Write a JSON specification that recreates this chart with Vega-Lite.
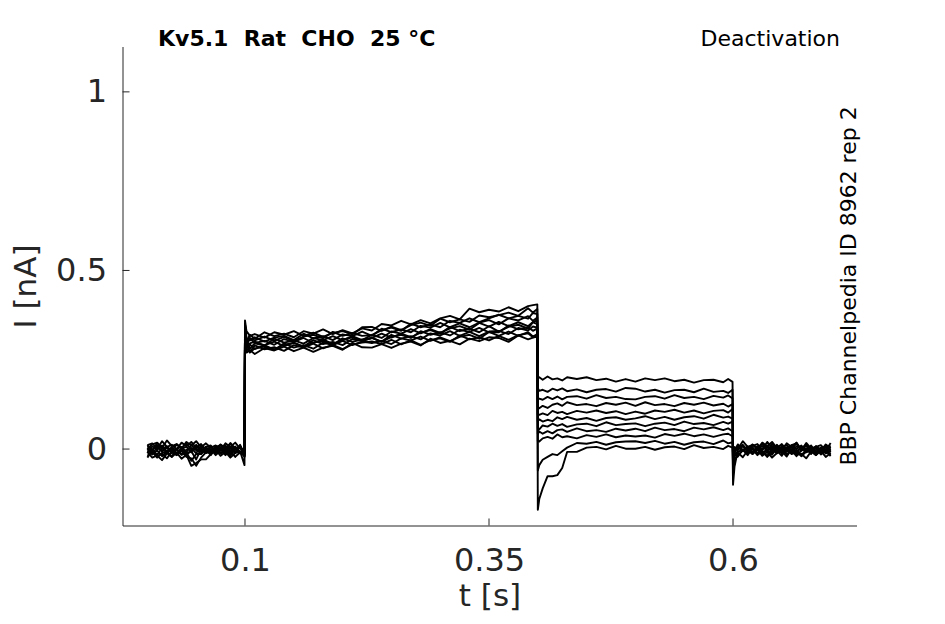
{
  "$schema": "https://vega.github.io/schema/vega-lite/v6.json",
  "width": 734,
  "height": 479,
  "autosize": {"type": "none"},
  "padding": {"left": 122.5, "top": 46.5, "right": 88.5, "bottom": 98.5},
  "background": "white",
  "config": {
    "view": {"stroke": null},
    "font": "DejaVu Sans",
    "axis": {
      "grid": false,
      "ticks": false,
      "domainColor": "#262626",
      "labelColor": "#262626",
      "titleColor": "#262626",
      "labelFont": "DejaVu Sans",
      "titleFont": "DejaVu Sans",
      "labelFontSize": 32,
      "titleFontSize": 31,
      "titleFontWeight": "normal",
      "labelOverlap": false,
      "labelFlush": false
    }
  },
  "layer": [
    {
      "data": {
        "values": [
          {"t": 0, "a": 0.011, "b": -0.009, "c": 0.008, "d": -0.019, "e": 0.011, "f": -0.008, "g": -0.011, "h": 0.002, "i": 0.0, "j": -0.024, "k": -0.001},
          {"t": 0.005, "a": -0.004, "b": -0.003, "c": -0.002, "d": -0.008, "e": 0.016, "f": -0.024, "g": 0.008, "h": -0.015, "i": 0.013, "j": -0.003, "k": -0.014},
          {"t": 0.01, "a": 0.017, "b": -0.016, "c": 0.01, "d": -0.024, "e": 0.001, "f": -0.018, "g": -0.002, "h": -0.004, "i": 0.018, "j": -0.019, "k": 0.005},
          {"t": 0.015, "a": 0.001, "b": 0.003, "c": -0.007, "d": -0.011, "e": 0.022, "f": -0.031, "g": 0.01, "h": -0.02, "i": 0.003, "j": -0.013, "k": -0.005},
          {"t": 0.02, "a": 0.007, "b": -0.007, "c": 0.004, "d": -0.006, "e": 0.006, "f": -0.012, "g": -0.007, "h": -0.007, "i": 0.024, "j": -0.026, "k": 0.007},
          {"t": 0.025, "a": -0.006, "b": 0.005, "c": -0.012, "d": -0.021, "e": 0.012, "f": -0.022, "g": 0.004, "h": -0.002, "i": 0.008, "j": -0.007, "k": -0.01},
          {"t": 0.03, "a": 0.013, "b": -0.012, "c": 0.001, "d": 0.0, "e": -0.001, "f": -0.01, "g": -0.012, "h": -0.017, "i": 0.014, "j": -0.017, "k": 0.001},
          {"t": 0.035, "a": 0.003, "b": -0.001, "c": 0.006, "d": -0.016, "e": 0.018, "f": -0.027, "g": 0.001, "h": 0.004, "i": 0.001, "j": -0.005, "k": -0.015},
          {"t": 0.04, "a": 0.015, "b": -0.017, "c": -0.009, "d": -0.01, "e": 0.008, "f": -0.016, "g": 0.006, "h": -0.012, "i": 0.02, "j": -0.022, "k": -0.002},
          {"t": 0.045, "a": -0.002, "b": -0.004, "c": 0.012, "d": -0.033, "e": 0.02, "f": -0.047, "g": -0.009, "h": -0.006, "i": 0.01, "j": -0.026, "k": 0.003},
          {"t": 0.05, "a": 0.009, "b": 0.001, "c": -0.004, "d": -0.014, "e": 0.003, "f": -0.039, "g": 0.012, "h": -0.029, "i": 0.022, "j": -0.047, "k": -0.012},
          {"t": 0.055, "a": -0.007, "b": -0.014, "c": 0.002, "d": -0.014, "e": 0.014, "f": -0.029, "g": -0.004, "h": 0.0, "i": 0.005, "j": -0.024, "k": 0.009},
          {"t": 0.06, "a": 0.006, "b": 0.007, "c": -0.011, "d": -0.002, "e": -0.002, "f": -0.029, "g": 0.002, "h": -0.01, "i": 0.016, "j": -0.009, "k": -0.007},
          {"t": 0.065, "a": -0.011, "b": 0.01, "c": -0.007, "d": -0.017, "e": 0.007, "f": -0.014, "g": -0.001, "h": 0.006, "i": 0.004, "j": -0.002, "k": -0.007},
          {"t": 0.07, "a": 0.008, "b": -0.007, "c": 0.006, "d": 0.004, "e": -0.006, "f": -0.002, "g": -0.017, "h": -0.009, "i": 0.01, "j": -0.012, "k": 0.004},
          {"t": 0.075, "a": -0.002, "b": 0.004, "c": 0.011, "d": -0.012, "e": 0.013, "f": -0.019, "g": -0.004, "h": 0.012, "i": -0.003, "j": 0.0, "k": -0.012},
          {"t": 0.08, "a": 0.01, "b": -0.012, "c": -0.004, "d": -0.006, "e": 0.003, "f": -0.008, "g": 0.001, "h": -0.004, "i": 0.016, "j": -0.017, "k": 0.001},
          {"t": 0.085, "a": -0.007, "b": 0.001, "c": 0.017, "d": -0.019, "e": 0.015, "f": -0.024, "g": -0.014, "h": 0.002, "i": 0.006, "j": -0.006, "k": 0.006},
          {"t": 0.09, "a": 0.004, "b": 0.006, "c": 0.001, "d": 0.0, "e": -0.002, "f": -0.011, "g": 0.007, "h": -0.011, "i": 0.018, "j": -0.022, "k": -0.009},
          {"t": 0.095, "a": -0.012, "b": -0.009, "c": 0.007, "d": -0.01, "e": 0.009, "f": -0.006, "g": -0.009, "h": 0.008, "i": 0.001, "j": -0.009, "k": 0.012},
          {"t": 0.0995, "a": -0.01, "b": 0.0, "c": -0.02, "d": -0.012, "e": -0.022, "f": -0.045, "g": -0.018, "h": -0.015, "i": 0.0, "j": -0.02, "k": -0.015},
          {"t": 0.1, "a": 0.34, "b": 0.36, "c": 0.33, "d": 0.35, "e": 0.32, "f": 0.34, "g": 0.35, "h": 0.33, "i": 0.345, "j": 0.33, "k": 0.32},
          {"t": 0.1015, "a": 0.3, "b": 0.33, "c": 0.29, "d": 0.31, "e": 0.28, "f": 0.3, "g": 0.31, "h": 0.29, "i": 0.3, "j": 0.28, "k": 0.27},
          {"t": 0.105, "a": 0.32, "b": 0.317, "c": 0.311, "d": 0.304, "e": 0.296, "f": 0.31, "g": 0.281, "h": 0.293, "i": 0.27, "j": 0.273, "k": 0.277},
          {"t": 0.11, "a": 0.309, "b": 0.322, "c": 0.304, "d": 0.313, "e": 0.301, "f": 0.297, "g": 0.296, "h": 0.28, "i": 0.282, "j": 0.29, "k": 0.266},
          {"t": 0.12, "a": 0.327, "b": 0.312, "c": 0.315, "d": 0.301, "e": 0.29, "f": 0.303, "g": 0.29, "h": 0.29, "i": 0.287, "j": 0.279, "k": 0.283},
          {"t": 0.13, "a": 0.316, "b": 0.327, "c": 0.303, "d": 0.312, "e": 0.309, "f": 0.292, "g": 0.301, "h": 0.279, "i": 0.277, "j": 0.285, "k": 0.276},
          {"t": 0.14, "a": 0.323, "b": 0.32, "c": 0.314, "d": 0.317, "e": 0.298, "f": 0.308, "g": 0.288, "h": 0.292, "i": 0.296, "j": 0.275, "k": 0.287},
          {"t": 0.15, "a": 0.313, "b": 0.33, "c": 0.302, "d": 0.305, "e": 0.304, "f": 0.3, "g": 0.298, "h": 0.297, "i": 0.284, "j": 0.291, "k": 0.274},
          {"t": 0.16, "a": 0.33, "b": 0.317, "c": 0.315, "d": 0.323, "e": 0.295, "f": 0.311, "g": 0.286, "h": 0.287, "i": 0.291, "j": 0.284, "k": 0.284},
          {"t": 0.17, "a": 0.323, "b": 0.326, "c": 0.32, "d": 0.31, "e": 0.311, "f": 0.297, "g": 0.298, "h": 0.305, "i": 0.281, "j": 0.295, "k": 0.272},
          {"t": 0.18, "a": 0.335, "b": 0.314, "c": 0.31, "d": 0.316, "e": 0.305, "f": 0.307, "g": 0.303, "h": 0.294, "i": 0.298, "j": 0.282, "k": 0.284},
          {"t": 0.19, "a": 0.322, "b": 0.325, "c": 0.328, "d": 0.305, "e": 0.316, "f": 0.294, "g": 0.292, "h": 0.3, "i": 0.291, "j": 0.292, "k": 0.289},
          {"t": 0.2, "a": 0.333, "b": 0.33, "c": 0.317, "d": 0.321, "e": 0.304, "f": 0.306, "g": 0.31, "h": 0.291, "i": 0.303, "j": 0.28, "k": 0.278},
          {"t": 0.21, "a": 0.324, "b": 0.321, "c": 0.325, "d": 0.316, "e": 0.316, "f": 0.313, "g": 0.3, "h": 0.308, "i": 0.291, "j": 0.293, "k": 0.297},
          {"t": 0.22, "a": 0.338, "b": 0.341, "c": 0.317, "d": 0.329, "e": 0.305, "f": 0.303, "g": 0.307, "h": 0.302, "i": 0.301, "j": 0.298, "k": 0.285},
          {"t": 0.23, "a": 0.332, "b": 0.342, "c": 0.319, "d": 0.317, "e": 0.32, "f": 0.311, "g": 0.311, "h": 0.311, "i": 0.297, "j": 0.301, "k": 0.284},
          {"t": 0.24, "a": 0.35, "b": 0.331, "c": 0.333, "d": 0.337, "e": 0.311, "f": 0.323, "g": 0.3, "h": 0.301, "i": 0.303, "j": 0.294, "k": 0.294},
          {"t": 0.25, "a": 0.346, "b": 0.343, "c": 0.34, "d": 0.327, "e": 0.329, "f": 0.312, "g": 0.314, "h": 0.32, "i": 0.294, "j": 0.306, "k": 0.283},
          {"t": 0.26, "a": 0.359, "b": 0.333, "c": 0.331, "d": 0.335, "e": 0.323, "f": 0.323, "g": 0.32, "h": 0.309, "i": 0.31, "j": 0.293, "k": 0.295},
          {"t": 0.27, "a": 0.349, "b": 0.347, "c": 0.351, "d": 0.327, "e": 0.336, "f": 0.313, "g": 0.311, "h": 0.316, "i": 0.304, "j": 0.304, "k": 0.301},
          {"t": 0.28, "a": 0.361, "b": 0.354, "c": 0.341, "d": 0.345, "e": 0.324, "f": 0.326, "g": 0.33, "h": 0.307, "i": 0.315, "j": 0.292, "k": 0.29},
          {"t": 0.29, "a": 0.352, "b": 0.345, "c": 0.349, "d": 0.34, "e": 0.336, "f": 0.333, "g": 0.32, "h": 0.324, "i": 0.303, "j": 0.305, "k": 0.309},
          {"t": 0.3, "a": 0.366, "b": 0.365, "c": 0.341, "d": 0.353, "e": 0.325, "f": 0.323, "g": 0.327, "h": 0.318, "i": 0.313, "j": 0.31, "k": 0.297},
          {"t": 0.31, "a": 0.373, "b": 0.355, "c": 0.359, "d": 0.341, "e": 0.338, "f": 0.342, "g": 0.318, "h": 0.33, "i": 0.302, "j": 0.3, "k": 0.303},
          {"t": 0.32, "a": 0.363, "b": 0.363, "c": 0.353, "d": 0.352, "e": 0.344, "f": 0.33, "g": 0.334, "h": 0.317, "i": 0.314, "j": 0.318, "k": 0.293},
          {"t": 0.33, "a": 0.393, "b": 0.356, "c": 0.366, "d": 0.341, "e": 0.334, "f": 0.337, "g": 0.328, "h": 0.328, "i": 0.32, "j": 0.307, "k": 0.309},
          {"t": 0.34, "a": 0.383, "b": 0.374, "c": 0.355, "d": 0.354, "e": 0.353, "f": 0.327, "g": 0.339, "h": 0.316, "i": 0.309, "j": 0.313, "k": 0.302},
          {"t": 0.35, "a": 0.39, "b": 0.369, "c": 0.366, "d": 0.361, "e": 0.343, "f": 0.344, "g": 0.327, "h": 0.329, "i": 0.328, "j": 0.304, "k": 0.313},
          {"t": 0.36, "a": 0.385, "b": 0.375, "c": 0.376, "d": 0.349, "e": 0.356, "f": 0.329, "g": 0.327, "h": 0.331, "i": 0.317, "j": 0.317, "k": 0.311},
          {"t": 0.37, "a": 0.397, "b": 0.382, "c": 0.366, "d": 0.366, "e": 0.344, "f": 0.342, "g": 0.346, "h": 0.322, "i": 0.329, "j": 0.306, "k": 0.3},
          {"t": 0.38, "a": 0.386, "b": 0.373, "c": 0.373, "d": 0.36, "e": 0.355, "f": 0.348, "g": 0.335, "h": 0.339, "i": 0.317, "j": 0.319, "k": 0.318},
          {"t": 0.39, "a": 0.4, "b": 0.394, "c": 0.365, "d": 0.372, "e": 0.344, "f": 0.337, "g": 0.341, "h": 0.332, "i": 0.327, "j": 0.324, "k": 0.307},
          {"t": 0.395, "a": 0.403, "b": 0.382, "c": 0.381, "d": 0.359, "e": 0.356, "f": 0.355, "g": 0.331, "h": 0.343, "i": 0.315, "j": 0.313, "k": 0.312},
          {"t": 0.3995, "a": 0.405, "b": 0.392, "c": 0.378, "d": 0.368, "e": 0.36, "f": 0.35, "g": 0.338, "h": 0.34, "i": 0.322, "j": 0.318, "k": 0.315},
          {"t": 0.4, "a": 0.2, "b": 0.17, "c": 0.14, "d": 0.118, "e": 0.096, "f": 0.078, "g": 0.058, "h": 0.042, "i": 0.022, "j": -0.06, "k": -0.17},
          {"t": 0.4015, "a": 0.201, "b": 0.163, "c": 0.141, "d": 0.114, "e": 0.096, "f": 0.083, "g": 0.055, "h": 0.049, "i": 0.021, "j": -0.045, "k": -0.14},
          {"t": 0.405, "a": 0.194, "b": 0.166, "c": 0.138, "d": 0.121, "e": 0.1, "f": 0.077, "g": 0.066, "h": 0.043, "i": 0.03, "j": -0.03, "k": -0.11},
          {"t": 0.41, "a": 0.203, "b": 0.16, "c": 0.146, "d": 0.115, "e": 0.095, "f": 0.082, "g": 0.063, "h": 0.05, "i": 0.034, "j": -0.022, "k": -0.076},
          {"t": 0.415, "a": 0.195, "b": 0.169, "c": 0.14, "d": 0.124, "e": 0.107, "f": 0.078, "g": 0.071, "h": 0.044, "i": 0.029, "j": -0.014, "k": -0.076},
          {"t": 0.42, "a": 0.198, "b": 0.164, "c": 0.147, "d": 0.128, "e": 0.101, "f": 0.089, "g": 0.065, "h": 0.053, "i": 0.041, "j": -0.017, "k": -0.073},
          {"t": 0.425, "a": 0.192, "b": 0.17, "c": 0.139, "d": 0.121, "e": 0.104, "f": 0.084, "g": 0.07, "h": 0.055, "i": 0.033, "j": -0.006, "k": -0.053},
          {"t": 0.43, "a": 0.201, "b": 0.162, "c": 0.146, "d": 0.131, "e": 0.098, "f": 0.09, "g": 0.062, "h": 0.048, "i": 0.036, "j": 0.004, "k": -0.008},
          {"t": 0.44, "a": 0.196, "b": 0.167, "c": 0.148, "d": 0.123, "e": 0.107, "f": 0.082, "g": 0.069, "h": 0.058, "i": 0.03, "j": 0.017, "k": -0.008},
          {"t": 0.45, "a": 0.201, "b": 0.159, "c": 0.141, "d": 0.126, "e": 0.102, "f": 0.087, "g": 0.071, "h": 0.05, "i": 0.039, "j": 0.015, "k": 0.004},
          {"t": 0.46, "a": 0.193, "b": 0.166, "c": 0.151, "d": 0.12, "e": 0.108, "f": 0.079, "g": 0.064, "h": 0.053, "i": 0.034, "j": 0.02, "k": 0.006},
          {"t": 0.47, "a": 0.197, "b": 0.168, "c": 0.143, "d": 0.129, "e": 0.101, "f": 0.087, "g": 0.075, "h": 0.048, "i": 0.041, "j": 0.012, "k": -0.001},
          {"t": 0.48, "a": 0.189, "b": 0.161, "c": 0.146, "d": 0.124, "e": 0.106, "f": 0.089, "g": 0.067, "h": 0.057, "i": 0.033, "j": 0.019, "k": 0.009},
          {"t": 0.49, "a": 0.196, "b": 0.171, "c": 0.14, "d": 0.13, "e": 0.098, "f": 0.082, "g": 0.07, "h": 0.052, "i": 0.038, "j": 0.021, "k": 0.001},
          {"t": 0.5, "a": 0.189, "b": 0.169, "c": 0.139, "d": 0.121, "e": 0.105, "f": 0.086, "g": 0.072, "h": 0.057, "i": 0.035, "j": 0.022, "k": 0.001},
          {"t": 0.51, "a": 0.198, "b": 0.161, "c": 0.146, "d": 0.131, "e": 0.099, "f": 0.092, "g": 0.064, "h": 0.05, "i": 0.038, "j": 0.017, "k": 0.006},
          {"t": 0.52, "a": 0.193, "b": 0.166, "c": 0.148, "d": 0.123, "e": 0.108, "f": 0.084, "g": 0.071, "h": 0.06, "i": 0.032, "j": 0.023, "k": -0.002},
          {"t": 0.53, "a": 0.198, "b": 0.158, "c": 0.141, "d": 0.126, "e": 0.104, "f": 0.09, "g": 0.074, "h": 0.053, "i": 0.042, "j": 0.015, "k": 0.005},
          {"t": 0.54, "a": 0.19, "b": 0.165, "c": 0.151, "d": 0.12, "e": 0.11, "f": 0.082, "g": 0.067, "h": 0.056, "i": 0.037, "j": 0.02, "k": 0.007},
          {"t": 0.55, "a": 0.194, "b": 0.166, "c": 0.143, "d": 0.129, "e": 0.102, "f": 0.089, "g": 0.077, "h": 0.05, "i": 0.043, "j": 0.012, "k": 0.0},
          {"t": 0.56, "a": 0.186, "b": 0.159, "c": 0.146, "d": 0.124, "e": 0.108, "f": 0.092, "g": 0.07, "h": 0.06, "i": 0.036, "j": 0.019, "k": 0.011},
          {"t": 0.57, "a": 0.193, "b": 0.169, "c": 0.14, "d": 0.13, "e": 0.1, "f": 0.085, "g": 0.073, "h": 0.055, "i": 0.041, "j": 0.021, "k": 0.003},
          {"t": 0.58, "a": 0.194, "b": 0.16, "c": 0.149, "d": 0.122, "e": 0.107, "f": 0.096, "g": 0.067, "h": 0.061, "i": 0.034, "j": 0.014, "k": 0.006},
          {"t": 0.59, "a": 0.187, "b": 0.163, "c": 0.144, "d": 0.127, "e": 0.109, "f": 0.088, "g": 0.076, "h": 0.053, "i": 0.041, "j": 0.024, "k": 0.0},
          {"t": 0.595, "a": 0.196, "b": 0.157, "c": 0.15, "d": 0.119, "e": 0.102, "f": 0.091, "g": 0.071, "h": 0.058, "i": 0.043, "j": 0.016, "k": 0.009},
          {"t": 0.5995, "a": 0.188, "b": 0.166, "c": 0.142, "d": 0.126, "e": 0.112, "f": 0.085, "g": 0.077, "h": 0.05, "i": 0.036, "j": 0.019, "k": 0.004},
          {"t": 0.6, "a": -0.02, "b": -0.03, "c": -0.015, "d": -0.04, "e": -0.025, "f": -0.05, "g": -0.035, "h": -0.065, "i": -0.02, "j": -0.045, "k": -0.1},
          {"t": 0.6015, "a": 0.005, "b": -0.01, "c": 0.0, "d": -0.015, "e": -0.005, "f": -0.025, "g": -0.01, "h": -0.03, "i": 0.005, "j": -0.02, "k": -0.05},
          {"t": 0.605, "a": 0.001, "b": 0.005, "c": 0.001, "d": -0.007, "e": 0.012, "f": -0.021, "g": 0.013, "h": -0.017, "i": 0.001, "j": -0.01, "k": -0.002},
          {"t": 0.61, "a": 0.007, "b": -0.005, "c": 0.012, "d": -0.002, "e": -0.004, "f": -0.002, "g": -0.004, "h": -0.004, "i": 0.022, "j": -0.023, "k": 0.01},
          {"t": 0.615, "a": -0.006, "b": 0.007, "c": -0.004, "d": -0.017, "e": 0.002, "f": -0.012, "g": 0.007, "h": 0.001, "i": 0.006, "j": -0.004, "k": -0.007},
          {"t": 0.62, "a": 0.013, "b": -0.01, "c": 0.009, "d": 0.004, "e": -0.011, "f": 0.0, "g": -0.009, "h": -0.014, "i": 0.012, "j": -0.014, "k": 0.004},
          {"t": 0.625, "a": 0.003, "b": 0.001, "c": 0.014, "d": -0.012, "e": 0.008, "f": -0.017, "g": 0.004, "h": 0.007, "i": -0.001, "j": -0.002, "k": -0.012},
          {"t": 0.63, "a": 0.015, "b": -0.015, "c": -0.001, "d": -0.006, "e": -0.002, "f": -0.006, "g": 0.009, "h": -0.009, "i": 0.018, "j": -0.019, "k": 0.001},
          {"t": 0.635, "a": -0.002, "b": -0.002, "c": 0.02, "d": -0.019, "e": 0.01, "f": -0.022, "g": -0.006, "h": -0.003, "i": 0.008, "j": -0.008, "k": 0.006},
          {"t": 0.64, "a": 0.009, "b": 0.003, "c": 0.004, "d": 0.0, "e": -0.007, "f": -0.009, "g": 0.015, "h": -0.016, "i": 0.02, "j": -0.024, "k": -0.009},
          {"t": 0.645, "a": -0.007, "b": -0.012, "c": 0.01, "d": -0.01, "e": 0.004, "f": -0.004, "g": -0.001, "h": 0.003, "i": 0.003, "j": -0.011, "k": 0.012},
          {"t": 0.65, "a": 0.006, "b": 0.009, "c": -0.003, "d": 0.002, "e": -0.012, "f": -0.019, "g": 0.005, "h": -0.007, "i": 0.014, "j": -0.006, "k": -0.004},
          {"t": 0.655, "a": 0.011, "b": -0.007, "c": 0.016, "d": -0.015, "e": 0.001, "f": 0.002, "g": -0.008, "h": 0.005, "i": -0.002, "j": -0.021, "k": 0.002},
          {"t": 0.66, "a": -0.004, "b": -0.001, "c": 0.006, "d": -0.004, "e": 0.006, "f": -0.014, "g": 0.011, "h": -0.012, "i": 0.011, "j": 0.0, "k": -0.011},
          {"t": 0.665, "a": 0.017, "b": -0.014, "c": 0.018, "d": -0.02, "e": -0.009, "f": -0.008, "g": 0.001, "h": -0.001, "i": 0.016, "j": -0.016, "k": 0.008},
          {"t": 0.67, "a": -0.004, "b": 0.008, "c": -0.002, "d": -0.004, "e": 0.007, "f": -0.019, "g": 0.01, "h": -0.02, "i": -0.004, "j": -0.013, "k": 0.001},
          {"t": 0.675, "a": 0.002, "b": -0.002, "c": 0.009, "d": 0.001, "e": -0.009, "f": 0.0, "g": -0.007, "h": -0.007, "i": 0.017, "j": -0.026, "k": 0.013},
          {"t": 0.68, "a": -0.011, "b": 0.01, "c": -0.007, "d": -0.014, "e": -0.003, "f": -0.01, "g": 0.004, "h": -0.002, "i": 0.001, "j": -0.007, "k": -0.004},
          {"t": 0.685, "a": 0.008, "b": -0.007, "c": 0.006, "d": 0.007, "e": -0.016, "f": 0.002, "g": -0.012, "h": -0.017, "i": 0.007, "j": -0.017, "k": 0.007},
          {"t": 0.69, "a": -0.002, "b": 0.004, "c": 0.011, "d": -0.009, "e": 0.003, "f": -0.015, "g": 0.001, "h": 0.004, "i": -0.006, "j": -0.005, "k": -0.009},
          {"t": 0.695, "a": 0.01, "b": -0.012, "c": -0.004, "d": -0.003, "e": -0.007, "f": -0.004, "g": 0.006, "h": -0.012, "i": 0.013, "j": -0.022, "k": 0.004},
          {"t": 0.7, "a": -0.007, "b": 0.001, "c": 0.017, "d": -0.016, "e": 0.005, "f": -0.02, "g": -0.009, "h": -0.006, "i": 0.003, "j": -0.011, "k": 0.009}
        ]
      },
      "transform": [
        {"fold": ["a", "b", "c", "d", "e", "f", "g", "h", "i", "j", "k"], "as": ["sweep", "current"]}
      ],
      "mark": {"type": "line", "color": "black", "strokeWidth": 1.9, "strokeJoin": "round"},
      "encoding": {
        "x": {
          "field": "t",
          "type": "quantitative",
          "scale": {"domain": [-0.0255, 0.7265], "nice": false, "zero": false},
          "axis": {"title": "t [s]", "values": [0.1, 0.35, 0.6], "format": "~g", "labelPadding": 20, "titlePadding": 5}
        },
        "y": {
          "field": "current",
          "type": "quantitative",
          "scale": {"domain": [-0.214, 1.127], "nice": false, "zero": false},
          "axis": {"title": "I [nA]", "values": [0, 0.5, 1], "format": "~g", "labelPadding": 16, "titlePadding": 13}
        },
        "detail": {"field": "sweep"}
      }
    },
    {
      "data": {"values": [{"tick": 0.1}, {"tick": 0.35}, {"tick": 0.6}]},
      "mark": {"type": "rule", "color": "#262626", "strokeWidth": 1},
      "encoding": {
        "x": {"field": "tick", "type": "quantitative", "title": "t [s]"},
        "y": {"datum": -0.214},
        "y2": {"datum": -0.1944}
      }
    },
    {
      "data": {"values": [{"tick": 0}, {"tick": 0.5}, {"tick": 1}]},
      "mark": {"type": "rule", "color": "#262626", "strokeWidth": 1},
      "encoding": {
        "y": {"field": "tick", "type": "quantitative", "title": "I [nA]"},
        "x": {"datum": -0.0255},
        "x2": {"datum": -0.0183}
      }
    },
    {
      "data": {"values": [{"label": "Kv5.1\u00a0\u00a0Rat\u00a0\u00a0CHO\u00a0\u00a025\u00a0°C"}]},
      "mark": {"type": "text", "fontSize": 22, "fontWeight": "bold", "color": "black", "align": "left", "baseline": "middle"},
      "encoding": {"x": {"datum": 0.0109}, "y": {"datum": 1.148}, "text": {"field": "label"}}
    },
    {
      "data": {"values": [{"label": "Deactivation"}]},
      "mark": {"type": "text", "fontSize": 22, "color": "black", "align": "right", "baseline": "middle"},
      "encoding": {"x": {"datum": 0.7096}, "y": {"datum": 1.148}, "text": {"field": "label"}}
    },
    {
      "data": {"values": [{"label": "BBP Channelpedia ID 8962 rep 2"}]},
      "mark": {"type": "text", "fontSize": 22, "color": "black", "align": "center", "baseline": "middle", "angle": 270},
      "encoding": {"x": {"datum": 0.7189}, "y": {"datum": 0.4566}, "text": {"field": "label"}}
    }
  ]
}
